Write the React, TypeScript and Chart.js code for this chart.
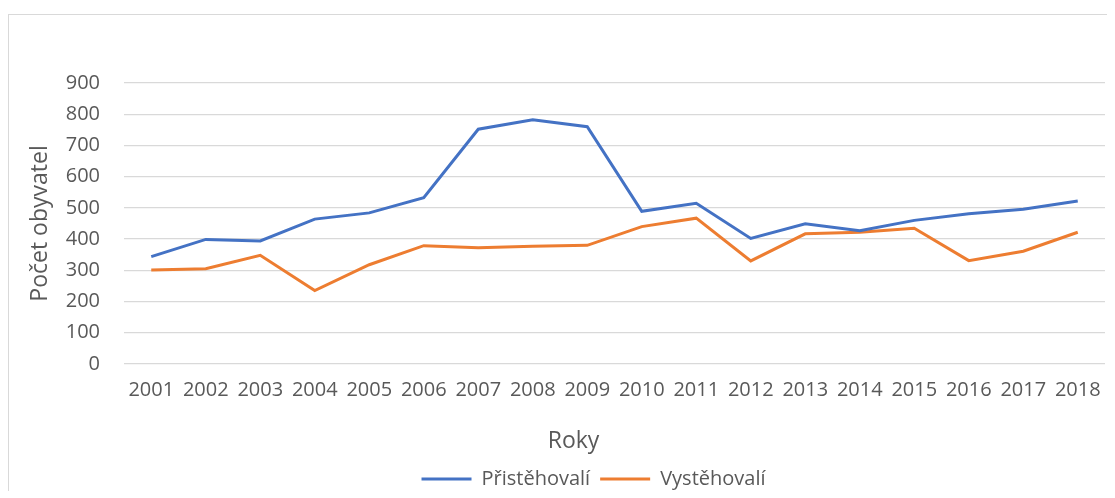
import React, { useEffect, useRef } from "react";
import { Chart, registerables } from "chart.js";

Chart.register(...registerables);

const years = ["2001", "2002", "2003", "2004", "2005", "2006", "2007", "2008", "2009", "2010", "2011", "2012", "2013", "2014", "2015", "2016", "2017", "2018"];
const immigrants = [344, 399, 394, 464, 484, 533, 752, 782, 760, 489, 515, 402, 449, 427, 460, 481, 496, 522];
const emigrants = [301, 305, 348, 235, 318, 379, 372, 377, 380, 440, 467, 330, 417, 422, 435, 331, 361, 422];
const seriesNames = ["Přistěhovalí", "Vystěhovalí"];
const seriesColors = ["#4472C4", "#ED7D31"];
const yMin = 0;
const yMax = 900;
const yStep = 100;
const xTitle = "Roky";
const yTitle = "Počet obyvatel";

const FONT = "'Open Sans', 'Noto Sans', sans-serif";
const TEXT = "#595959";

export default function App() {
  const ref = useRef<HTMLCanvasElement>(null);

  useEffect(() => {
    if (!ref.current) return;

    const xTitlePlugin = {
      id: "xTitleCustom",
      afterDraw(chart: any) {
        const { ctx, chartArea } = chart;
        ctx.save();
        ctx.font = `23px ${FONT}`;
        ctx.fillStyle = TEXT;
        ctx.textAlign = "center";
        ctx.textBaseline = "middle";
        ctx.fillText(xTitle, (chartArea.left + chartArea.right) / 2 - 41, chartArea.bottom + 77);
        ctx.restore();
      },
    };

    const legendShift = {
      id: "legendShift",
      afterLayout(chart: any) {
        const l = chart.legend;
        if (l) {
          l.left += 37;
          l.right += 37;
        }
      },
    };

    const chart = new Chart(ref.current, {
      type: "line",
      data: {
        labels: years,
        datasets: [
          {
            label: seriesNames[0],
            data: immigrants,
            borderColor: seriesColors[0],
            backgroundColor: seriesColors[0],
            borderWidth: 3,
            pointRadius: 0,
            tension: 0,
            fill: false,
          },
          {
            label: seriesNames[1],
            data: emigrants,
            borderColor: seriesColors[1],
            backgroundColor: seriesColors[1],
            borderWidth: 3,
            pointRadius: 0,
            tension: 0,
            fill: false,
          },
        ],
      },
      options: {
        responsive: false,
        animation: false,
        layout: { padding: { top: 75, right: 10, bottom: 0, left: 0 } },
        plugins: {
          tooltip: { enabled: false },
          legend: {
            position: "bottom",
            labels: {
              usePointStyle: true,
              pointStyle: "line",
              pointStyleWidth: 50,
              padding: 10,
              color: TEXT,
              font: { family: FONT, size: 20 },
            },
          },
        },
        scales: {
          x: {
            type: "category",
            offset: true,
            grid: { display: false, drawTicks: false },
            border: { display: false },
            ticks: {
              autoSkip: false,
              maxRotation: 0,
              minRotation: 0,
              padding: 14,
              color: TEXT,
              font: { family: FONT, size: 20 },
            },
            afterFit(s: any) {
              s.height = 95;
            },
          },
          y: {
            min: yMin,
            max: yMax,
            ticks: {
              stepSize: yStep,
              padding: 24,
              color: TEXT,
              font: { family: FONT, size: 20 },
            },
            grid: { color: "#d9d9d9", lineWidth: 1.3, drawTicks: false },
            border: { display: false },
            title: {
              display: true,
              text: yTitle,
              color: TEXT,
              font: { family: FONT, size: 23 },
              padding: { top: 19, bottom: 0 },
            },
            afterFit(s: any) {
              s.width = 116;
            },
          },
        },
      },
      plugins: [xTitlePlugin, legendShift],
    });

    return () => chart.destroy();
  }, []);

  return (
    <div style={{ position: "relative", width: 1107, height: 491, marginBottom: -8 }}>
      <style>{"html,body{overflow:hidden}"}</style>
      <div
        style={{
          position: "absolute",
          left: 0,
          top: 6,
          right: 0,
          bottom: 0,
          borderTop: "1px solid #d9d9d9",
          borderLeft: "1px solid #d9d9d9",
        }}
      />
      <canvas ref={ref} width={1107} height={491} style={{ position: "absolute", left: 0, top: 0 }} />
    </div>
  );
}
